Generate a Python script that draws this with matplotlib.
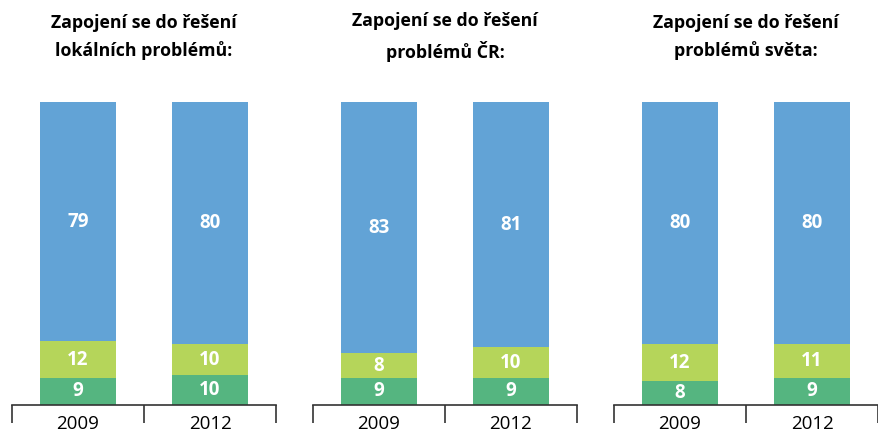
import numpy as np
import matplotlib.pyplot as plt

titles = ["Zapojení se do řešení\nlokálních problémů:",
          "Zapojení se do řešení\nproblémů ČR:",
          "Zapojení se do řešení\nproblémů světa:"]
years = ["2009", "2012"]

# bottom -> top segments per panel, per year
dark_green = [[9, 10], [9, 9], [8, 9]]
light_green = [[12, 10], [8, 10], [12, 11]]
blue = [[79, 80], [83, 81], [80, 80]]

colors = ["#55B580", "#B5D55A", "#62A3D6"]

plt.rcParams['font.family'] = ['Open Sans', 'DejaVu Sans']

fig = plt.figure(figsize=(8.79, 4.32), dpi=100)
lefts = [12, 313, 614]
x = np.arange(len(years))

for i in range(3):
    ax = fig.add_axes([lefts[i] / 879, 27 / 432, 264 / 879, 303 / 432])
    bottom = np.zeros(len(years))
    for vals, col in zip([dark_green[i], light_green[i], blue[i]], colors):
        vals = np.array(vals)
        ax.bar(x, vals, width=0.576, bottom=bottom, color=col, linewidth=0)
        for xi, v, b in zip(x, vals, bottom):
            ax.text(xi, b + v / 2, str(v), ha='center', va='center',
                    color='white', fontsize=13.5, fontweight='bold')
        bottom += vals
    ax.set_xlim(-0.5, 1.5)
    ax.set_ylim(0, 100)
    for s in ['top', 'right', 'left']:
        ax.spines[s].set_visible(False)
    ax.spines['bottom'].set_color('#333333')
    ax.spines['bottom'].set_linewidth(1.2)
    ax.set_yticks([])
    ax.set_xticks([-0.5, 0.5, 1.5])
    ax.set_xticklabels([])
    ax.tick_params(axis='x', which='major', length=13, width=1.2,
                   color='#333333', direction='out')
    ax.set_xticks(x, minor=True)
    ax.set_xticklabels(years, minor=True, fontsize=13.5)
    ax.tick_params(axis='x', which='minor', length=0, pad=7)
    cx = (lefts[i] + 132) / 879
    fig.text(cx, 1 - 37 / 432, titles[i], ha='center', va='center',
             fontsize=12.8, fontweight='bold', linespacing=1.6)

fig.savefig("out.png", dpi=100)
